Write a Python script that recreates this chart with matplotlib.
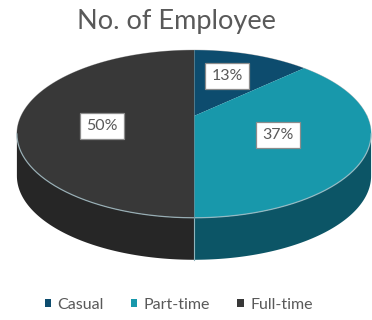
import numpy as np
import matplotlib
matplotlib.use('Agg')
import matplotlib.pyplot as plt
from matplotlib.patches import Polygon, Rectangle

plt.rcParams['font.family'] = ['Lato', 'DejaVu Sans']

# data
categories = ['Casual', 'Part-time', 'Full-time']
values = [13, 37, 50]
top_colors = ['#0d4c6e', '#1898ab', '#383838']
side_colors = ['#093650', '#0c5566', '#262626']

# pie geometry (pixel units, simple perspective)
cx, cy = 194, 116
A, B, k = 173, 80, 0.214
depth = 42


def project(u, v):
    w = 1 + k * v
    return cx + A * u / w, cy - B * v / w


fig = plt.figure(figsize=(3.72, 3.20), dpi=100)
ax = fig.add_axes([0, 0, 1, 1])
ax.set_xlim(0, 372)
ax.set_ylim(320, 0)
ax.axis('off')

fracs = np.array(values) / np.sum(values)
starts = 90 - 360 * np.concatenate([[0], np.cumsum(fracs)[:-1]])
ends = starts - 360 * fracs

# visible front band of the side wall
sil = np.degrees(np.arcsin(k))
front_lo, front_hi = -180 + sil, -sil

# side walls first
for s, e, col in zip(starts, ends, side_colors):
    for off in (0, 360, -360):
        lo, hi = max(e, front_lo + off), min(s, front_hi + off)
        if hi <= lo:
            continue
        t = np.radians(np.linspace(hi, lo, 80))
        xs, ys = project(np.cos(t), np.sin(t))
        pts = np.column_stack([np.r_[xs, xs[::-1]], np.r_[ys, ys[::-1] + depth]])
        ax.add_patch(Polygon(pts, closed=True, fc=col, ec='none', zorder=2))

# top faces
for s, e, col in zip(starts, ends, top_colors):
    t = np.radians(np.linspace(s, e, 200))
    xs, ys = project(np.cos(t), np.sin(t))
    pts = np.column_stack([np.r_[cx, xs], np.r_[cy, ys]])
    ax.add_patch(Polygon(pts, closed=True, fc=col, ec='none', zorder=3))

# light rim along the front edge and the seam down the middle
t = np.radians(np.linspace(front_lo, front_hi, 200))
xs, ys = project(np.cos(t), np.sin(t))
ax.plot(xs, ys, color='#a9c4cc', lw=0.9, alpha=0.8, zorder=4)
bx, by = project(0, -1)
ax.plot([bx, bx], [by, by + depth], color='#8fb4bc', lw=0.8, zorder=4)
tx, ty = project(0, 1)
ax.plot([tx, bx], [ty, by], color='#6f8f99', lw=0.7, alpha=0.7, zorder=4)

# outline
t = np.radians(np.linspace(0, 360, 400))
xs, ys = project(np.cos(t), np.sin(t))
ax.plot(xs, ys, color='#bdbdbd', lw=0.6, zorder=1)

# percentage labels
label_pos = [(227, 76), (278, 135), (102, 126)]
for (lx, ly), v in zip(label_pos, values):
    ax.text(lx, ly, f'{v}%', ha='center', va='center', fontsize=11.5,
            color='#595959', zorder=5,
            bbox=dict(boxstyle='square,pad=0.4', fc='white', ec='#8c8c8c', lw=0.9))

ax.text(176, 21, 'No. of Employee', ha='center', va='center',
        fontsize=19.5, color='#595959')

handles = [Rectangle((0, 0), 1, 1, fc=c, ec='none') for c in top_colors]
fig.legend(handles, categories, loc='center', bbox_to_anchor=(0.48, 0.047),
           ncol=3, frameon=False, fontsize=11.5, labelcolor='#595959',
           handlelength=0.4, handleheight=0.4, handletextpad=0.4,
           columnspacing=1.7)

fig.savefig('out.png', dpi=100)
